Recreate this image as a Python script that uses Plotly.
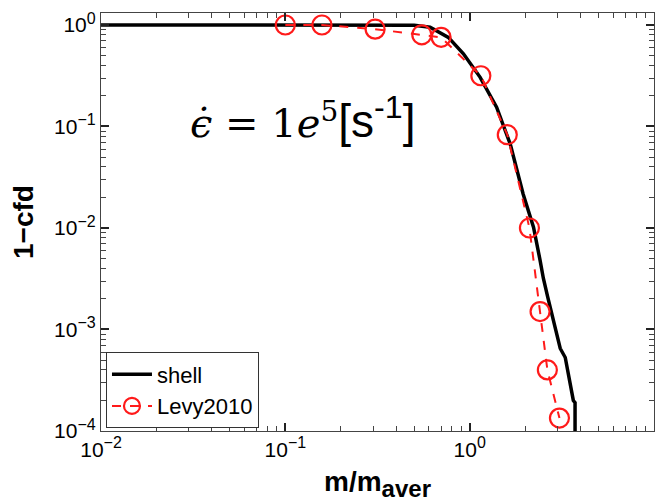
import plotly.graph_objects as go

# shell simulation curve (m/m_aver, 1-cfd)
shell_x = [0.01, 0.1, 0.3, 0.5, 0.61, 0.766, 0.925, 1.14, 1.40, 1.66, 1.95, 2.22, 2.41,
           2.51, 2.65, 2.79, 2.9, 3.03, 3.1, 3.30, 3.4, 3.51, 3.65, 3.73, 3.73]
shell_y = [1.0, 1.0, 1.0, 0.995, 0.95, 0.755, 0.52, 0.305, 0.155, 0.067, 0.0216, 0.0102, 0.0048,
           0.0032, 0.0021, 0.0014, 0.0011, 0.00077, 0.00065, 0.00053, 0.0004, 0.00029, 0.0002, 0.00019, 0.00009]

# Levy 2010 data
levy_x = [0.1, 0.158, 0.307, 0.55, 0.70, 1.15, 1.60, 2.11, 2.41, 2.64, 3.07]
levy_y = [1.0, 1.0, 0.91, 0.80, 0.755, 0.316, 0.083, 0.010, 0.0015, 0.0004, 0.000134]

def sup(e):
    return "10<sup><span style='font-size:16px'>" + e + "</span></sup>"

xticks = [0.01, 0.1, 1, 10]
xticktext = [sup("−2"), sup("−1"), sup("0"), sup("1")]
yticks = [1e-4, 1e-3, 1e-2, 1e-1, 1]
yticktext = [sup("−4"), sup("−3"), sup("−2"), sup("−1"), sup("0")]

XRANGE = [-2, 1]
YRANGE = [-4, 0.118]

fig = go.Figure()
fig.add_trace(go.Scatter(x=shell_x, y=shell_y, mode="lines", name="shell",
                         line=dict(color="black", width=3.5)))
fig.add_trace(go.Scatter(x=levy_x, y=levy_y, mode="lines+markers", name="Levy2010",
                         line=dict(color="#ff1a1a", width=2, dash="dash"),
                         marker=dict(symbol="circle-open", size=19, color="#ff1a1a",
                                     line=dict(width=2.2, color="#ff1a1a"))))

axis_common = dict(
    showgrid=False, zeroline=False, showline=True, mirror="ticks",
    linecolor="#444444", linewidth=1.2, ticks="inside", ticklen=8, tickwidth=1.5, tickcolor="#222222",
    tickfont=dict(family="Liberation Sans, Arial", size=21, color="black"),
    minor=dict(dtick="D1", ticks="inside", ticklen=5, tickwidth=1.2, tickcolor="#444444", showgrid=False),
)

fig.update_layout(
    width=659, height=494,
    margin=dict(l=93, r=13, t=5, b=71),
    plot_bgcolor="white", paper_bgcolor="white",
    font=dict(family="Liberation Sans, Arial", color="black"),
    xaxis=dict(type="log", range=XRANGE, tickvals=xticks, ticktext=xticktext, automargin=False,
               title=dict(text="<b>m/m<sub><span style='font-size:24px'>aver</span></sub></b>",
                          font=dict(size=28)),
               **axis_common),
    yaxis=dict(type="log", range=YRANGE, tickvals=yticks, ticktext=yticktext, automargin=False,
               title=dict(text="<b>1−cfd</b>", font=dict(size=28)),
               **axis_common),
    legend=dict(x=0.009, y=0.006, xanchor="left", yanchor="bottom",
                bgcolor="white", bordercolor="#333333", borderwidth=1,
                font=dict(size=22, family="Liberation Sans, Arial"),
                tracegroupgap=0, itemwidth=40),
    showlegend=True,
)

fig.add_annotation(
    x=-1.53, y=-0.92, xref="x", yref="y", xanchor="left", yanchor="middle",
    text="<i>ϵ̇</i> = 1<i>e</i><sup>5</sup><span style='font-family:Liberation Sans;font-size:46px'>[s<sup>-1</sup>]</span>",
    showarrow=False, font=dict(family="DejaVu Serif", size=40, color="black"),
)

fig.write_html("out.html")
